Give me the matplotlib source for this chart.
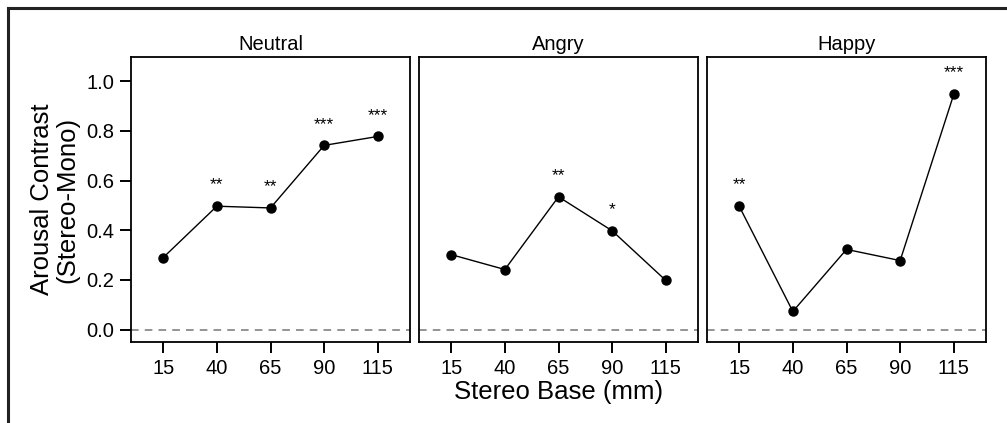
import matplotlib
matplotlib.use("Agg")
import matplotlib.pyplot as plt
from matplotlib.lines import Line2D

plt.rcParams['font.family'] = ['Liberation Sans', 'DejaVu Sans']

stereo_base = [15, 40, 65, 90, 115]
panels = ["Neutral", "Angry", "Happy"]
neutral = [0.29, 0.497, 0.49, 0.742, 0.778]
angry = [0.302, 0.242, 0.535, 0.398, 0.198]
happy = [0.497, 0.073, 0.323, 0.278, 0.948]
neutral_sig = ["", "**", "**", "***", "***"]
angry_sig = ["", "", "**", "*", ""]
happy_sig = ["**", "", "", "", "***"]
yticks = [0.0, 0.2, 0.4, 0.6, 0.8, 1.0]

series = [neutral, angry, happy]
sigs = [neutral_sig, angry_sig, happy_sig]

W, H = 1007, 423
fig = plt.figure(figsize=(W / 100, H / 100), dpi=100)

lefts = [131, 419, 707]
pw = 279
top, bottom = 57, 342

for i, (name, vals, sg) in enumerate(zip(panels, series, sigs)):
    ax = fig.add_axes([lefts[i] / W, 1 - bottom / H, pw / W, (bottom - top) / H])
    ax.axhline(0, color='#777777', lw=1.1, ls=(0, (5, 4)), zorder=1)
    ax.plot(stereo_base, vals, color='black', lw=1.0, marker='o', ms=6.5, zorder=3)
    for x, y, s in zip(stereo_base, vals, sg):
        if s:
            ax.text(x, y + 0.055, s, ha='center', va='bottom', fontsize=12.5)
    ax.set_xlim(0, 130)
    ax.set_ylim(-0.05, 1.098)
    ax.set_xticks(stereo_base)
    ax.set_xticklabels([str(v) for v in stereo_base], fontsize=14.5)
    ax.tick_params(axis='x', direction='out', length=8, width=1.4, pad=4)
    for sp in ax.spines.values():
        sp.set_linewidth(1.3)
    ax.set_title(name, fontsize=14.5, pad=5)
    if i == 0:
        ax.set_yticks(yticks)
        ax.set_yticklabels([f"{v:.1f}" for v in yticks], fontsize=14.5)
        ax.tick_params(axis='y', direction='out', length=8, width=1.4, pad=4)
        ax.set_ylabel("Arousal Contrast\n(Stereo-Mono)", fontsize=18.5, linespacing=1.05, labelpad=5)
    else:
        ax.set_yticks([])
    if i == 1:
        ax.set_xlabel("Stereo Base (mm)", fontsize=18.5, labelpad=2)

fig.add_artist(Line2D([7.5 / W, 1.0], [1 - 8.5 / H, 1 - 8.5 / H], color='#222222', lw=2.2, transform=fig.transFigure))
fig.add_artist(Line2D([7.5 / W, 7.5 / W], [0, 1 - 8.5 / H], color='#222222', lw=2.2, transform=fig.transFigure))

fig.savefig("out.png", dpi=100, facecolor='white')
